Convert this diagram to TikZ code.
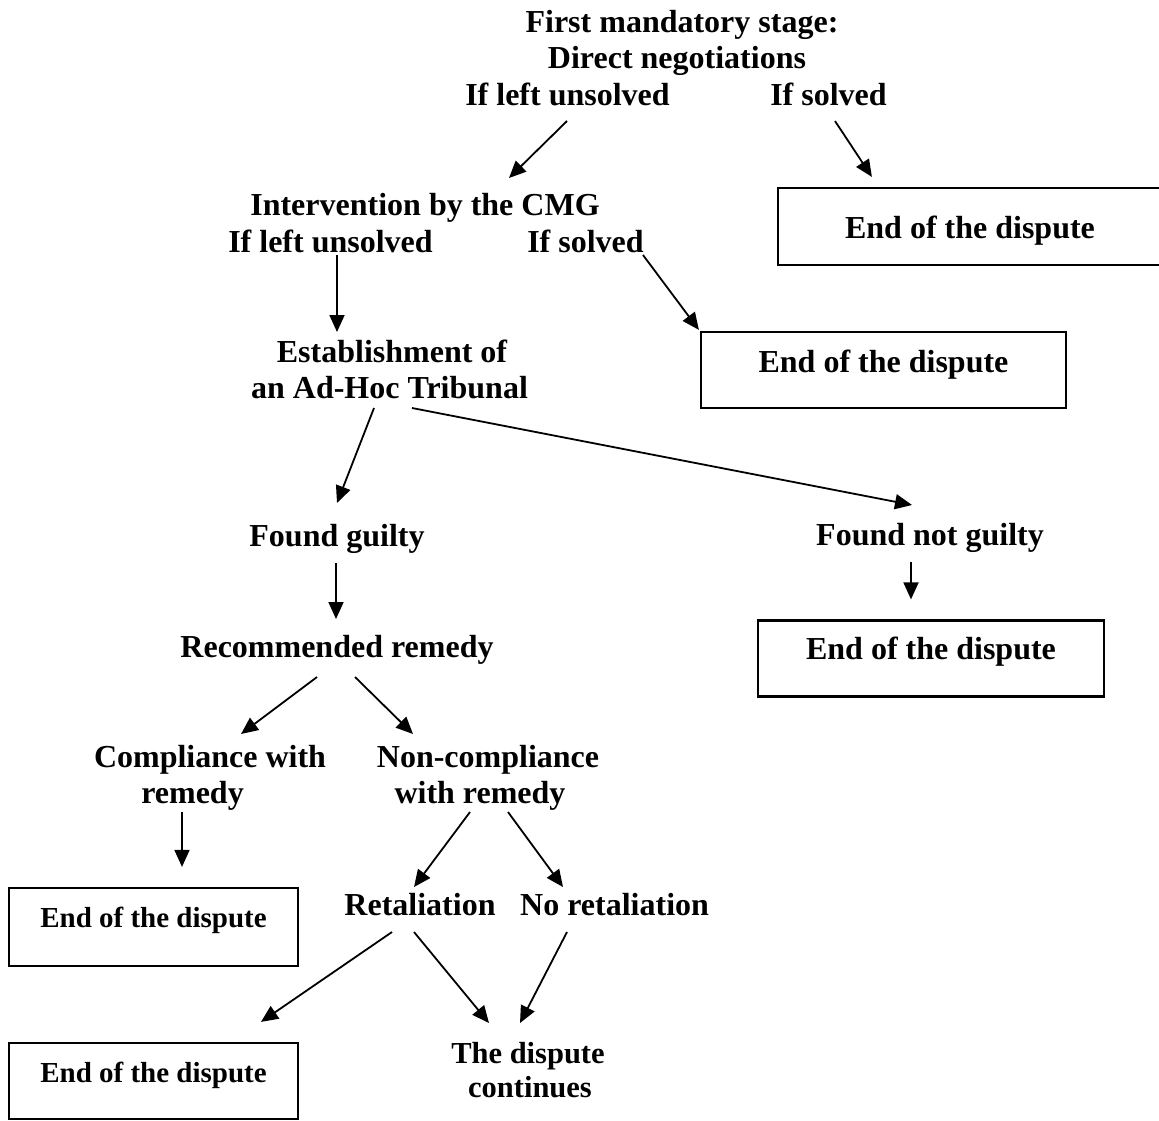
\documentclass[tikz,border=0pt]{standalone}
\usepackage{fontspec}
\setmainfont{Liberation Serif}
\usetikzlibrary{arrows.meta,calc}
\tikzset{
  lbl/.style={anchor=base, inner sep=0pt, font=\bfseries\fontsize{32}{37}\selectfont},
  smalllbl/.style={anchor=base, inner sep=0pt, font=\bfseries\fontsize{30.5}{35}\selectfont},
  endbox/.style={draw, line width=2.2pt, inner sep=0pt, font=\bfseries\fontsize{32}{37}\selectfont},
  smallendbox/.style={draw, line width=2.2pt, inner sep=0pt, font=\bfseries\fontsize{29}{34}\selectfont},
  arr/.style={line width=1.8pt, -{Triangle[length=17pt,width=15pt]}}
}
\begin{document}
\begin{tikzpicture}[x=1pt,y=-1pt]
\clip (0,0) rectangle (1159,1120);
\fill[white] (0,0) rectangle (1159,1120);

% texts
\node[lbl] (t1) at (682,32) {First mandatory stage:};
\node[lbl] (t2) at (677,68) {Direct negotiations};
\node[lbl] (u1) at (567.5,105) {If left unsolved};
\node[lbl] (s1) at (828.5,105) {If solved};
\node[endbox, minimum width=384pt, minimum height=77pt, text height=30pt, text depth=7pt] (b1) at (970,226.5) {End of the dispute};

\node[lbl] (i1) at (425,215) {Intervention by the CMG};
\node[lbl] (u2) at (330.5,252) {If left unsolved};
\node[lbl] (s2) at (585.5,252) {If solved};
\node[endbox, minimum width=365pt, minimum height=76pt, text height=22pt, text depth=18pt] (b2) at (883.5,370) {End of the dispute};

\node[lbl] (e1) at (392,362) {Establishment of};
\node[lbl] (e2) at (389.5,398) {an Ad-Hoc Tribunal};

\node[lbl] (g1) at (337,546) {Found guilty};
\node[lbl] (ng) at (930,545) {Found not guilty};
\node[lbl] (rr) at (337,657) {Recommended remedy};
\node[endbox, minimum width=346pt, minimum height=76pt, text height=22pt, text depth=21pt] (b3) at (931,658.5) {End of the dispute};

\node[lbl] (c1) at (210,767) {Compliance with};
\node[lbl] (c2) at (192.5,803) {remedy};
\node[lbl] (n1) at (488,767) {Non-compliance};
\node[lbl] (n2) at (480,803) {with remedy};

\node[smallendbox, minimum width=289pt, minimum height=78pt, text height=20pt, text depth=20pt] (b4) at (153.5,927) {End of the dispute};
\node[lbl] (rt) at (420,915) {Retaliation};
\node[lbl] (nr) at (614.6,915) {No retaliation};

\node[smallendbox, minimum width=289pt, minimum height=76pt, text height=21pt, text depth=19pt] (b5) at (153.5,1081) {End of the dispute};
\node[smalllbl] (d1) at (528,1063) {The dispute};
\node[smalllbl] (d2) at (530,1097) {continues};

% connectors
\draw[arr] ($(u1.base)+(-0.5,16)$) -- ($(i1.base)+(84,-37)$);
\draw[arr] ($(s1.base)+(6.5,16)$) -- ($(b1.north west)+(95,-10)$);
\draw[arr] ($(u2.base)+(6.5,3)$) -- ($(e1.base)+(-55,-30)$);
\draw[arr] ($(s2.base)+(57.5,3)$) -- ($(b2.north west)+(-1,-1)$);
\draw[arr] ($(e2.base)+(-15.5,10)$) -- ($(g1.base)+(0,-43)$);
\draw[arr] ($(e2.base)+(22.5,10)$) -- ($(ng.base)+(-18,-40)$);
\draw[arr] ($(g1.base)+(-1,17)$) -- ($(rr.base)+(-1,-38)$);
\draw[arr] ($(ng.base)+(-19,17)$) -- ($(b3.north)+(-20,-20)$);
\draw[arr] ($(rr.base)+(-20,20)$) -- ($(c1.base)+(31,-33)$);
\draw[arr] ($(rr.base)+(18,20)$) -- ($(n1.base)+(-75,-33)$);
\draw[arr] ($(c2.base)+(-10.5,9)$) -- ($(b4.north)+(28.5,-20)$);
\draw[arr] ($(n2.base)+(-10,9)$) -- ($(rt.base)+(-6,-28)$);
\draw[arr] ($(n2.base)+(28,9)$) -- ($(nr.base)+(-51.6,-28)$);
\draw[arr] ($(rt.base)+(-28,17)$) -- ($(b5.north)+(107.5,-20)$);
\draw[arr] ($(rt.base)+(-6,17)$) -- ($(d1.base)+(-39,-40)$);
\draw[arr] ($(nr.base)+(-47.6,17)$) -- ($(d1.base)+(-8,-40)$);
\end{tikzpicture}
\end{document}
